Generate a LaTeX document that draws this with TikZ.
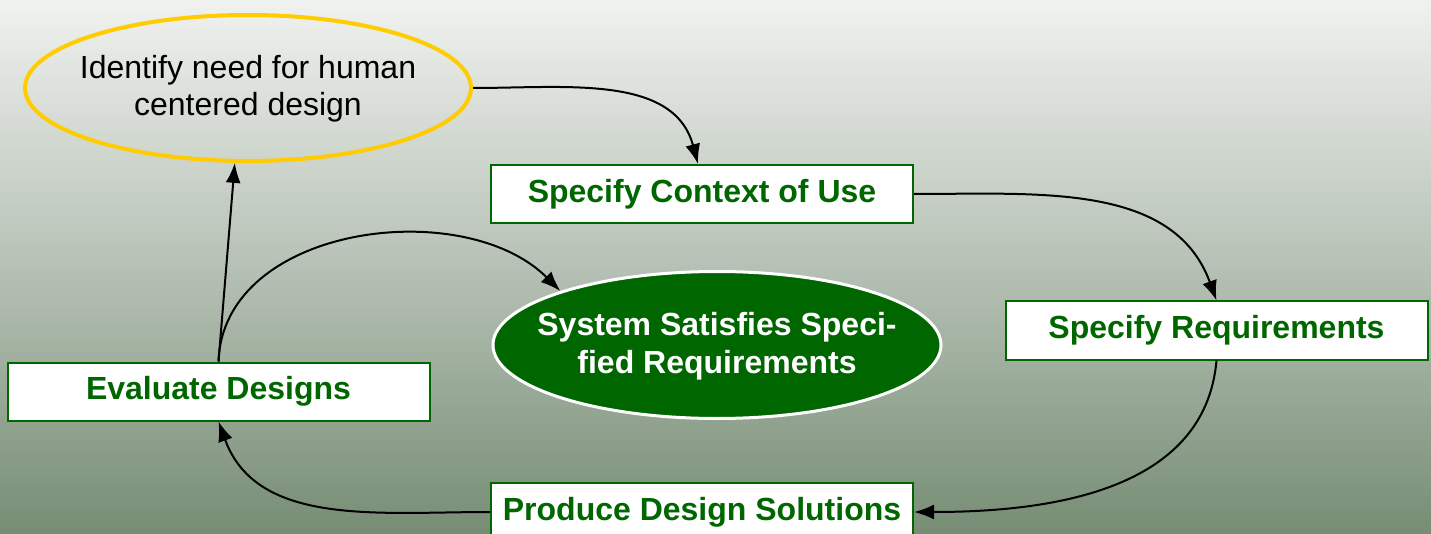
\documentclass[tikz,border=0pt]{standalone}
\usepackage{fontspec}
\setmainfont{Liberation Sans}
\usetikzlibrary{shapes.geometric,arrows.meta}
\definecolor{dkgreen}{HTML}{006600}
\definecolor{gold}{HTML}{FFCC00}
\definecolor{bgtop}{RGB}{240,242,239}
\definecolor{bgmid}{RGB}{182,193,181}
\definecolor{bgbot}{RGB}{118,141,116}
\tikzset{
  stepbox/.style={draw=dkgreen, line width=2pt, fill=white, minimum width=422pt, minimum height=58pt, inner sep=0pt, text=dkgreen, font=\fontsize{32}{37}\selectfont\bfseries},
  goalell/.style={ellipse, draw=gold, line width=4pt, minimum width=446pt, minimum height=146pt, inner sep=0pt},
  sysell/.style={ellipse, draw=white, line width=3pt, fill=dkgreen, minimum width=448pt, minimum height=147pt, inner sep=0pt},
  goaltext/.style={align=center, inner sep=0pt, font=\fontsize{32}{37}\selectfont},
  systext/.style={align=center, inner sep=0pt, text=white, font=\fontsize{32}{38}\selectfont\bfseries},
  conn/.style={draw=black, line width=2pt, -{Latex[length=20pt,width=15pt]}}
}
\begin{document}
\begin{tikzpicture}[x=1pt,y=-1pt]
\useasboundingbox (0,0) rectangle (1431,534);
\shade[top color=bgtop, bottom color=bgbot, middle color=bgmid] (0,0) rectangle (1431,534);
\node[goalell] (need) at (248,88) {};
\node[goaltext] (needtext) at (248,89) {Identify need for human\\centered design};
\node[stepbox] (ctx) at (702,194) {Specify Context of Use};
\node[stepbox] (req) at (1216.5,330.5) {Specify Requirements};
\node[stepbox] (prod) at (702,512) {Produce Design Solutions};
\node[stepbox] (eval) at (218.5,391.5) {Evaluate Designs};
\node[sysell] (sys) at (717,345) {};
\node[systext] (systxt) at (717,346) {System Satisfies Speci-\\fied Requirements};
\draw[conn] (need.east) to[out=0,in=105] ([xshift=-4pt]ctx.north);
\draw[conn] (ctx.east) to[out=0,in=110] (req.north);
\draw[conn] (req.south) to[out=-95,in=0] (prod.east);
\draw[conn] (prod.west) to[out=180,in=-70] (eval.south);
\draw[conn] (eval.north) -- (need.-100);
\draw[conn] (eval.north) to[out=88,in=135] (sys.161);
\end{tikzpicture}
\end{document}
